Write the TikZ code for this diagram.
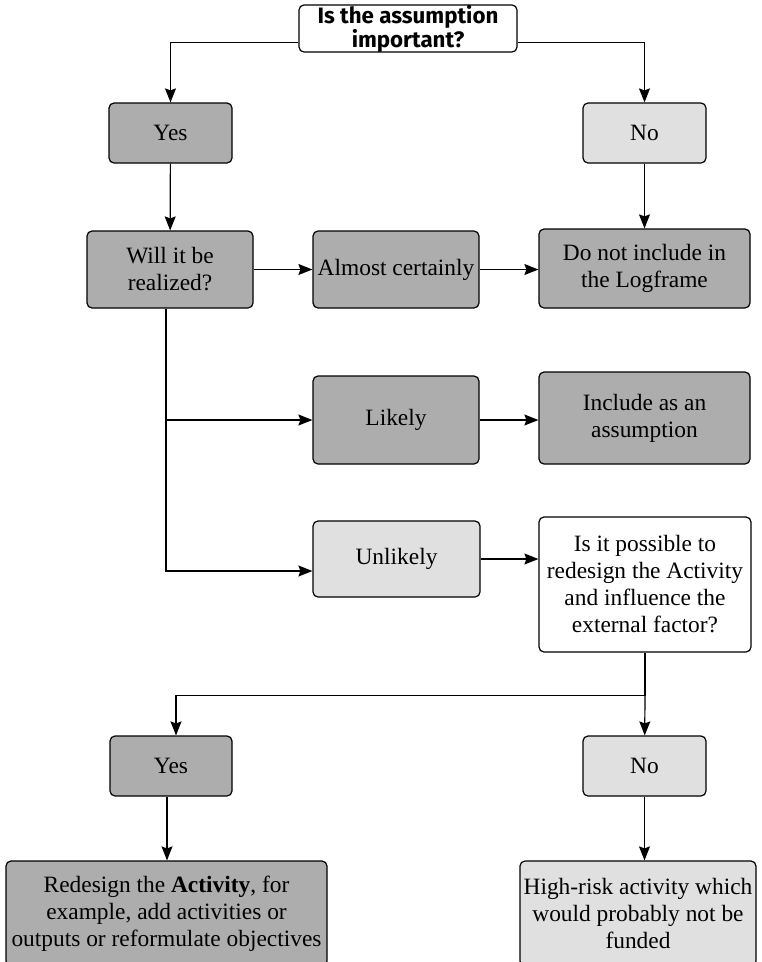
\documentclass[tikz,border=0pt]{standalone}
\usepackage{fontspec}
\setmainfont{Liberation Serif}
\newfontfamily\headfont{Fira Sans}
\usepackage{tikz}
\usetikzlibrary{arrows.meta}

\begin{document}
\begin{tikzpicture}[x=1pt,y=-1pt,
		box/.style={draw=black,line width=1.2pt,rounded corners=5pt,align=center,inner sep=0pt,
			font=\fontsize{23.4}{27}\selectfont},
		darkbox/.style={box,fill={rgb,255:red,173;green,173;blue,173}},
		lightbox/.style={box,fill={rgb,255:red,224;green,224;blue,224}},
		whitebox/.style={box,fill=white},
		conn/.style={line width=1.2pt,-{Stealth[length=14pt,width=11pt,inset=2pt]}},
		hv/.style={to path={-| (\tikztotarget)}},
		vh/.style={to path={|- (\tikztotarget)}}]
			\useasboundingbox (0,0) rectangle (762,962);
			\node[whitebox,minimum width=218pt,minimum height=44pt,font=\headfont\bfseries\fontsize{22.3}{21.5}\selectfont]
				(title) at (408,28.5) {Is the assumption\\important?};
			\node[darkbox,minimum width=123pt,minimum height=60pt] (yes1) at (170.5,133) {Yes};
			\node[lightbox,minimum width=123pt,minimum height=60pt] (no1) at (644.5,133) {No};
			\node[darkbox,minimum width=166pt,minimum height=77pt] (will) at (170,269.5) {Will it be\\realized?};
			\node[darkbox,minimum width=166pt,minimum height=77pt] (almost) at (396,269.5) {Almost certainly};
			\node[darkbox,minimum width=211pt,minimum height=79pt] (donot) at (644.5,268.5) {Do not include in\\the Logframe};
			\node[darkbox,minimum width=166pt,minimum height=88pt] (likely) at (396,420) {Likely};
			\node[darkbox,minimum width=211pt,minimum height=92pt] (incl) at (644.5,418) {Include as an\\assumption};
			\node[lightbox,minimum width=167pt,minimum height=76pt] (unlikely) at (396.5,559) {Unlikely};
			\node[whitebox,minimum width=212pt,minimum height=135pt] (possible) at (645,584.5)
				{Is it possible to\\redesign the Activity\\and influence the\\external factor?};
			\node[darkbox,minimum width=122pt,minimum height=60pt] (yes2) at (171,766) {Yes};
			\node[lightbox,minimum width=123pt,minimum height=60pt] (no2) at (644.5,766) {No};
			\node[darkbox,minimum width=321pt,minimum height=105pt] (redesign) at (166.5,913.5)
				{Redesign the \textbf{Activity}, for\\example, add activities or\\outputs or reformulate objectives};
			\node[lightbox,minimum width=236pt,minimum height=105pt] (highrisk) at (638,913.5)
				{High-risk activity which\\would probably not be\\funded};
			\coordinate (split) at ([yshift=-43pt]possible.south);
			\path[conn]
			([yshift=-14pt]title.west) edge[hv] (yes1)
			([yshift=-14pt]title.east) edge[hv] (no1)
			(yes1) edge (will)
			(no1) edge (donot)
			(will) edge (almost)
			(almost) edge (almost -| donot.west)
			([xshift=-4pt]will.south) edge[vh] (likely)
			([xshift=-4pt]will.south) edge[vh] ([yshift=-12pt]unlikely.west)
			(likely) edge (likely -| incl.west)
			(unlikely) edge (unlikely -| possible.west)
			(split) edge[hv] ([xshift=5pt]yes2.north)
			(split) edge (no2)
			([xshift=-4pt]yes2.south) edge ([xshift=-4pt]yes2.south |- redesign.north)
			(no2) edge (no2 |- highrisk.north);
			\draw[line width=1.2pt] (possible) -- (split);
		\end{tikzpicture}
\end{document}
